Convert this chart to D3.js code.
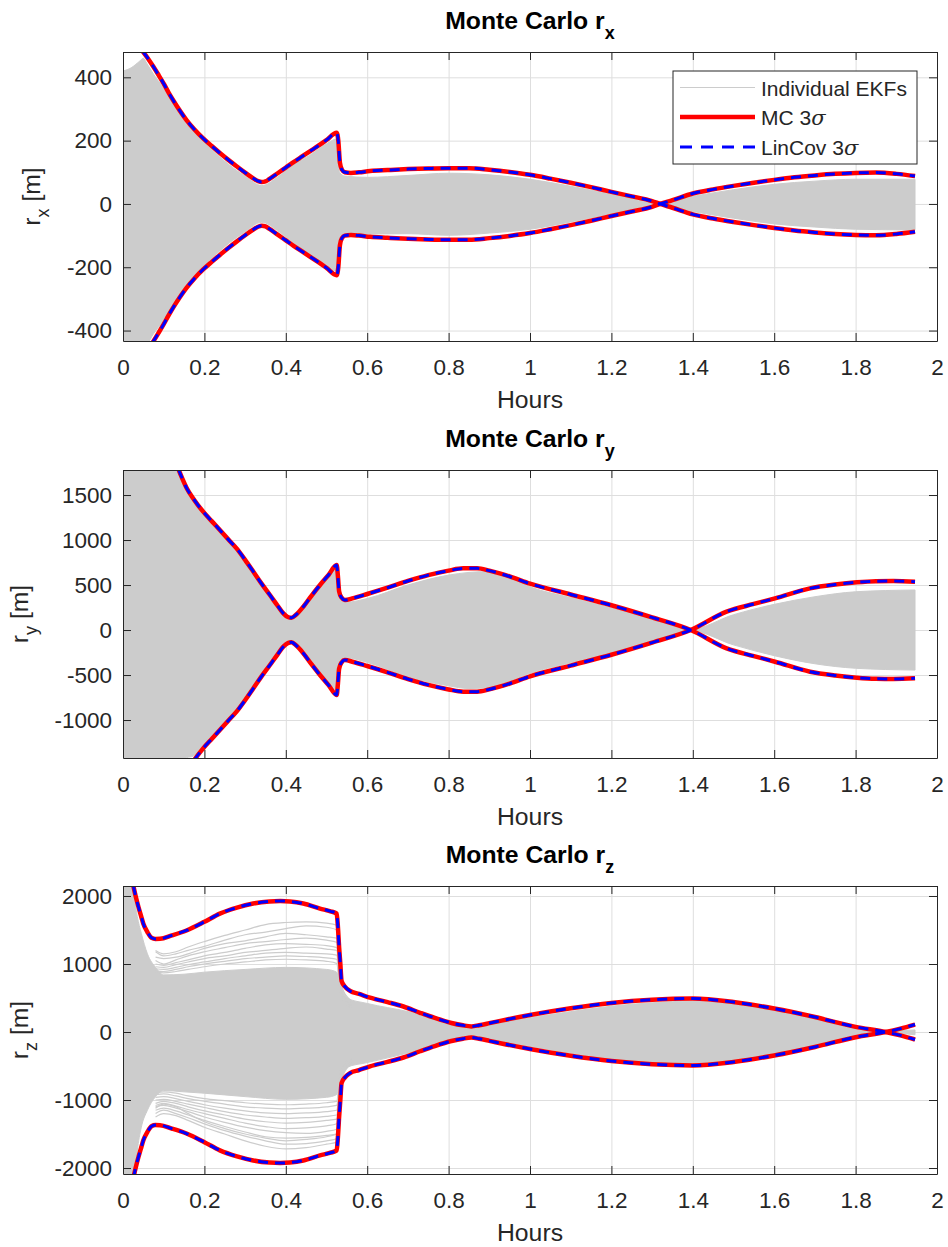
<!DOCTYPE html>
<html>
<head>
<meta charset="utf-8">
<script src="https://cdn.jsdelivr.net/npm/d3@7"></script>
<style>
  body { margin: 0; background: #fff; }
  svg { display: block; }
</style>
</head>
<body>
<svg id="fig" width="948" height="1247"></svg>
<script>
// ---- axis ticks ----
const hourTicks = [0, 0.2, 0.4, 0.6, 0.8, 1, 1.2, 1.4, 1.6, 1.8, 2];
const rxTicks = [-400, -200, 0, 200, 400];
const ryTicks = [-1000, -500, 0, 500, 1000, 1500];
const rzTicks = [-2000, -1000, 0, 1000, 2000];

// ---- r_x : signed 3-sigma envelope (MC and LinCov coincide) ----
const rxHours = [0.048, 0.06, 0.074, 0.087, 0.1, 0.112, 0.124, 0.14, 0.156, 0.175, 0.197, 0.218, 0.238, 0.258, 0.279, 0.3, 0.32, 0.332, 0.341, 0.35, 0.36, 0.38, 0.4, 0.42, 0.44, 0.46, 0.48, 0.5, 0.525, 0.529, 0.533, 0.538, 0.545, 0.56, 0.58, 0.607, 0.65, 0.7, 0.75, 0.8, 0.85, 0.9, 0.95, 1.0, 1.05, 1.1, 1.15, 1.2, 1.25, 1.3, 1.32, 1.35, 1.4, 1.45, 1.5, 1.55, 1.6, 1.65, 1.7, 1.75, 1.8, 1.85, 1.9, 1.946];
const rx3Sigma = [483, 462, 435, 408, 380, 352, 326, 294, 265, 236, 207, 183, 161, 140, 119, 99, 81, 72, 69, 71, 79, 97, 115, 133, 150, 167, 184, 202, 225, 200, 130, 108, 100, 98, 100, 104, 107, 110, 112, 113, 113, 108, 101, 92, 80, 67, 53, 38, 24, 9, 0, -12, -33, -46, -57, -67, -76, -84, -90, -95, -98, -99, -95, -88];

// ---- r_x : spread of the individual EKF runs ----
const rxEkfHours = [0, 0.02, 0.04, 0.05, 0.058, 0.075, 0.1, 0.125, 0.15, 0.2, 0.25, 0.3, 0.341, 0.38, 0.42, 0.46, 0.5, 0.525, 0.532, 0.545, 0.6, 0.7, 0.8, 0.9, 1.0, 1.1, 1.2, 1.32, 1.4, 1.5, 1.6, 1.7, 1.8, 1.946];
const rxEkfUpper = [420, 430, 450, 460, 445, 410, 365, 310, 262, 195, 135, 88, 58, 85, 125, 155, 190, 205, 100, 88, 84, 90, 97, 92, 78, 56, 31, 4, 24, 45, 62, 72, 78, 78];
const rxEkfLower = [-440, -440, -440, -440, -440, -410, -365, -310, -262, -195, -135, -88, -58, -85, -125, -160, -195, -212, -105, -95, -95, -94, -99, -92, -80, -57, -31, -4, -24, -45, -63, -73, -80, -82];

// ---- r_y : signed 3-sigma envelope ----
const ryHours = [0.136, 0.146, 0.156, 0.175, 0.197, 0.218, 0.238, 0.258, 0.279, 0.3, 0.32, 0.34, 0.361, 0.38, 0.394, 0.405, 0.414, 0.425, 0.443, 0.463, 0.484, 0.505, 0.525, 0.528, 0.531, 0.537, 0.545, 0.566, 0.6, 0.65, 0.7, 0.75, 0.8, 0.836, 0.87, 0.9, 0.95, 1.0, 1.1, 1.2, 1.3, 1.395, 1.483, 1.55, 1.602, 1.688, 1.75, 1.803, 1.85, 1.893, 1.946];
const ry3Sigma = [1789, 1680, 1580, 1445, 1315, 1210, 1111, 1010, 907, 780, 650, 518, 389, 270, 185, 145, 137, 170, 259, 380, 500, 612, 722, 600, 430, 360, 333, 355, 400, 470, 545, 610, 660, 685, 685, 660, 595, 515, 395, 275, 140, 0, -204, -290, -352, -463, -505, -530, -542, -544, -537];

// ---- r_y : spread of the individual EKF runs ----
const ryEkfHours = [0, 0.136, 0.15, 0.156, 0.173, 0.2, 0.25, 0.3, 0.35, 0.4, 0.414, 0.43, 0.48, 0.525, 0.532, 0.55, 0.6, 0.7, 0.8, 0.85, 0.9, 0.95, 1.0, 1.1, 1.2, 1.3, 1.395, 1.5, 1.6, 1.7, 1.8, 1.946];
const ryEkfUpper = [1800, 1800, 1640, 1560, 1430, 1290, 1040, 760, 440, 150, 120, 180, 460, 680, 380, 310, 350, 500, 610, 640, 650, 580, 480, 360, 245, 125, 10, 170, 285, 370, 425, 445];
const ryEkfLower = [-1440, -1440, -1440, -1420, -1400, -1270, -1040, -760, -440, -150, -120, -180, -460, -680, -380, -310, -360, -520, -620, -650, -640, -570, -480, -365, -250, -125, -10, -165, -285, -375, -425, -445];

// ---- r_z : signed 3-sigma envelope ----
const rzHours = [0.025, 0.031, 0.038, 0.044, 0.05, 0.06, 0.07, 0.08, 0.091, 0.12, 0.156, 0.2, 0.238, 0.28, 0.32, 0.36, 0.386, 0.41, 0.443, 0.484, 0.51, 0.525, 0.528, 0.531, 0.534, 0.537, 0.545, 0.558, 0.58, 0.607, 0.65, 0.689, 0.73, 0.766, 0.807, 0.835, 0.856, 0.875, 0.9, 0.93, 1.0, 1.1, 1.2, 1.3, 1.4, 1.5, 1.6, 1.7, 1.8, 1.874, 1.91, 1.946];
const rz3Sigma = [2160, 2000, 1838, 1715, 1593, 1470, 1385, 1368, 1370, 1420, 1493, 1620, 1741, 1830, 1889, 1920, 1927, 1920, 1889, 1815, 1775, 1741, 1550, 1246, 1000, 753, 670, 604, 560, 505, 440, 375, 283, 207, 133, 98, 82, 100, 130, 168, 250, 350, 428, 475, 492, 440, 345, 220, 76, 0, -50, -110];

// ---- r_z : dense core of the individual EKF runs ----
const rzEkfHours = [0, 0.02, 0.028, 0.035, 0.045, 0.06, 0.08, 0.1, 0.15, 0.2, 0.3, 0.4, 0.5, 0.525, 0.535, 0.55, 0.6, 0.7, 0.8, 0.856, 0.9, 1.0, 1.1, 1.2, 1.3, 1.4, 1.5, 1.6, 1.7, 1.8, 1.874, 1.946];
const rzEkfUpper = [2200, 2200, 1950, 1700, 1450, 1150, 950, 840, 850, 880, 920, 950, 920, 880, 600, 500, 420, 300, 140, 55, 110, 210, 300, 380, 430, 455, 410, 320, 200, 70, 15, 30];
const rzEkfLower = [-2150, -2150, -2150, -1750, -1400, -1150, -950, -860, -880, -900, -950, -990, -960, -920, -600, -520, -450, -310, -150, -60, -110, -210, -310, -400, -440, -460, -420, -330, -210, -75, -15, -40];

// ---- r_z : outlying individual EKF runs ----
const rzTraceHours = [0.08, 0.1, 0.13, 0.16, 0.2, 0.25, 0.3, 0.35, 0.4, 0.45, 0.5, 0.525, 0.535, 0.56];
const rzTraces = [
  [1200, 1150, 1180, 1250, 1330, 1420, 1500, 1580, 1610, 1620, 1600, 1570, 720, 460],
  [1180, 1120, 1150, 1200, 1260, 1350, 1430, 1470, 1520, 1560, 1540, 1500, 700, 440],
  [1100, 1080, 1100, 1150, 1230, 1300, 1340, 1400, 1450, 1430, 1400, 1380, 660, 420],
  [1050, 1000, 1060, 1120, 1180, 1240, 1300, 1330, 1360, 1380, 1350, 1320, 640, 410],
  [1000, 980, 1020, 1060, 1120, 1170, 1230, 1280, 1300, 1290, 1270, 1240, 620, 400],
  [960, 950, 990, 1030, 1080, 1120, 1170, 1200, 1230, 1250, 1220, 1200, 600, 390],
  [930, 920, 950, 990, 1030, 1080, 1120, 1160, 1170, 1160, 1150, 1130, 580, 380],
  [900, 890, 920, 960, 1000, 1040, 1080, 1100, 1120, 1110, 1090, 1070, 560, 370],
  [880, 870, 890, 920, 960, 1000, 1030, 1060, 1070, 1060, 1040, 1010, 540, 360],
  [-1250, -1200, -1230, -1300, -1400, -1500, -1600, -1680, -1720, -1700, -1650, -1620, -740, -470],
  [-1200, -1150, -1200, -1260, -1350, -1450, -1530, -1600, -1650, -1640, -1600, -1570, -720, -460],
  [-1150, -1120, -1160, -1220, -1300, -1390, -1470, -1540, -1560, -1550, -1520, -1500, -700, -450],
  [-1100, -1080, -1120, -1170, -1250, -1330, -1400, -1450, -1480, -1490, -1460, -1430, -680, -440],
  [-1080, -1050, -1090, -1140, -1200, -1270, -1340, -1390, -1420, -1410, -1380, -1350, -660, -430],
  [-1050, -1020, -1050, -1100, -1160, -1220, -1280, -1320, -1340, -1330, -1300, -1280, -640, -420],
  [-1000, -990, -1020, -1060, -1110, -1170, -1220, -1250, -1270, -1260, -1240, -1220, -620, -410],
  [-960, -950, -980, -1020, -1070, -1120, -1160, -1190, -1200, -1190, -1170, -1150, -600, -400],
  [-920, -910, -940, -980, -1020, -1060, -1100, -1120, -1130, -1120, -1100, -1080, -580, -390],
  [-900, -880, -900, -940, -980, -1010, -1040, -1060, -1070, -1060, -1040, -1020, -560, -380],
  [-1120, -1060, -1100, -1200, -1320, -1420, -1500, -1560, -1600, -1580, -1540, -1500, -690, -450]
];

// ---- legend entries ----
const legendLabels = ["Individual EKFs", "MC 3", "LinCov 3"];

// ---------------------------------------------------------------
const FONT = '"Liberation Sans", Arial, Helvetica, sans-serif';
const AX = "#262626";
const GRID = "#dedede";
const EKF = "#cccccc";
const LEFT = 123, RIGHT = 937;
const TICK_FS = 22.5, LABEL_FS = 24.75, SUB_FS = 18;

const panels = [
  { sub: "x", top: 52,  bottom: 341,  yDomain: [-433, 480],   yTicks: rxTicks, hours: rxHours, sigma: rx3Sigma,
    ekf: [rxEkfHours, rxEkfUpper, rxEkfLower], traces: null, ylabelX: 40 },
  { sub: "y", top: 470, bottom: 758,  yDomain: [-1422, 1778], yTicks: ryTicks, hours: ryHours, sigma: ry3Sigma,
    ekf: [ryEkfHours, ryEkfUpper, ryEkfLower], traces: null, ylabelX: 28 },
  { sub: "z", top: 886, bottom: 1174, yDomain: [-2088, 2147], yTicks: rzTicks, hours: rzHours, sigma: rz3Sigma,
    ekf: [rzEkfHours, rzEkfUpper, rzEkfLower], traces: [rzTraceHours, rzTraces], ylabelX: 28 }
];

const svg = d3.select("#fig").attr("font-family", FONT);
const x = d3.scaleLinear().domain([0, 2]).range([LEFT, RIGHT]);
const fmtHour = d => String(+d.toFixed(1));
const fmtPlain = d => String(d);

panels.forEach((p, i) => {
  const y = d3.scaleLinear().domain(p.yDomain).range([p.bottom, p.top]);
  const h = p.bottom - p.top, w = RIGHT - LEFT;
  const g = svg.append("g");

  svg.append("clipPath").attr("id", "plot-clip-" + i)
    .append("rect").attr("x", LEFT).attr("y", p.top).attr("width", w).attr("height", h);

  // grid
  g.append("g").attr("transform", `translate(0,${p.bottom})`)
    .call(d3.axisBottom(x).tickValues(hourTicks).tickSize(-h).tickFormat(""))
    .call(s => { s.select(".domain").remove(); s.selectAll("line").attr("stroke", GRID); });
  g.append("g").attr("transform", `translate(${LEFT},0)`)
    .call(d3.axisLeft(y).tickValues(p.yTicks).tickSize(-w).tickFormat(""))
    .call(s => { s.select(".domain").remove(); s.selectAll("line").attr("stroke", GRID); });

  const plot = g.append("g").attr("clip-path", `url(#plot-clip-${i})`);

  // spread of individual EKF runs
  const [eh, eu, el] = p.ekf;
  const ekfRows = eh.map((t, k) => ({ t, hi: eu[k], lo: el[k] }));
  plot.append("path").datum(ekfRows)
    .attr("d", d3.area().x(d => x(d.t)).y0(d => y(d.lo)).y1(d => y(d.hi)).curve(d3.curveMonotoneX))
    .attr("fill", EKF).attr("stroke", EKF).attr("stroke-width", 1);

  if (p.traces) {
    const [th, tv] = p.traces;
    const traceLine = d3.line().x((d, k) => x(th[k])).y(d => y(d)).curve(d3.curveMonotoneX);
    plot.append("g").selectAll("path").data(tv).join("path")
      .attr("d", traceLine).attr("fill", "none").attr("stroke", EKF).attr("stroke-width", 1.2);
  }

  // 3-sigma envelopes (+ and - branches)
  const rows = p.hours.map((t, k) => ({ t, v: p.sigma[k] }));
  const upper = d3.line().x(d => x(d.t)).y(d => y(d.v)).curve(d3.curveMonotoneX);
  const lower = d3.line().x(d => x(d.t)).y(d => y(-d.v)).curve(d3.curveMonotoneX);
  [upper, lower].forEach(gen => {
    plot.append("path").datum(rows).attr("d", gen)
      .attr("fill", "none").attr("stroke", "#ff0000").attr("stroke-width", 4.5)
      .attr("stroke-linejoin", "round");
  });
  [upper, lower].forEach(gen => {
    plot.append("path").datum(rows).attr("d", gen)
      .attr("fill", "none").attr("stroke", "#0000ff").attr("stroke-width", 3)
      .attr("stroke-dasharray", "10,7");
  });

  // axes box with inward ticks
  const styleAxis = s => {
    s.select(".domain").attr("stroke", AX).attr("stroke-width", 1);
    s.selectAll(".tick line").attr("stroke", AX);
    s.selectAll(".tick text").attr("fill", AX).attr("font-size", TICK_FS).attr("font-family", FONT);
  };
  g.append("g").attr("transform", `translate(0,${p.bottom})`)
    .call(d3.axisBottom(x).tickValues(hourTicks).tickSizeInner(-8).tickSizeOuter(0).tickPadding(18).tickFormat(fmtHour))
    .call(styleAxis);
  g.append("g").attr("transform", `translate(0,${p.top})`)
    .call(d3.axisTop(x).tickValues(hourTicks).tickSizeInner(-8).tickSizeOuter(0).tickFormat(""))
    .call(styleAxis);
  g.append("g").attr("transform", `translate(${LEFT},0)`)
    .call(d3.axisLeft(y).tickValues(p.yTicks).tickSizeInner(-8).tickSizeOuter(0).tickPadding(11).tickFormat(fmtPlain))
    .call(styleAxis);
  g.append("g").attr("transform", `translate(${RIGHT},0)`)
    .call(d3.axisRight(y).tickValues(p.yTicks).tickSizeInner(-8).tickSizeOuter(0).tickFormat(""))
    .call(styleAxis);

  // title
  const title = svg.append("text").attr("x", (LEFT + RIGHT) / 2).attr("y", p.top - 23)
    .attr("text-anchor", "middle").attr("font-weight", "bold").attr("font-size", LABEL_FS).attr("fill", "#000");
  title.append("tspan").text("Monte Carlo r");
  title.append("tspan").attr("dy", 10).attr("font-size", SUB_FS).text(p.sub);

  // x label
  svg.append("text").attr("x", (LEFT + RIGHT) / 2).attr("y", p.bottom + 67)
    .attr("text-anchor", "middle").attr("font-size", LABEL_FS).attr("fill", AX).text("Hours");

  // y label
  const yl = svg.append("text")
    .attr("transform", `translate(${p.ylabelX},${(p.top + p.bottom) / 2}) rotate(-90)`)
    .attr("text-anchor", "middle").attr("font-size", LABEL_FS).attr("fill", AX);
  yl.append("tspan").text("r");
  yl.append("tspan").attr("dy", 9).attr("font-size", SUB_FS).text(p.sub);
  yl.append("tspan").attr("dy", -9).text(" [m]");
});

// legend (top panel)
const lg = svg.append("g");
lg.append("rect").attr("x", 673).attr("y", 71).attr("width", 244).attr("height", 93)
  .attr("fill", "#fff").attr("stroke", AX).attr("stroke-width", 1);
const rowY = [87.5, 117, 147];
const sample = [
  { stroke: EKF, width: 1, dash: null },
  { stroke: "#ff0000", width: 4.5, dash: null },
  { stroke: "#0000ff", width: 3, dash: "12,9" }
];
sample.forEach((s, k) => {
  lg.append("line").attr("x1", 680).attr("x2", 755).attr("y1", rowY[k]).attr("y2", rowY[k])
    .attr("stroke", s.stroke).attr("stroke-width", s.width).attr("stroke-dasharray", s.dash);
  const t = lg.append("text").attr("x", 761).attr("y", rowY[k] + 8).attr("font-size", 21).attr("fill", AX);
  t.append("tspan").text(legendLabels[k]);
  if (k > 0) t.append("tspan").attr("font-style", "italic").attr("font-family", '"DejaVu Serif", serif').text("σ");
});
</script>
</body>
</html>
